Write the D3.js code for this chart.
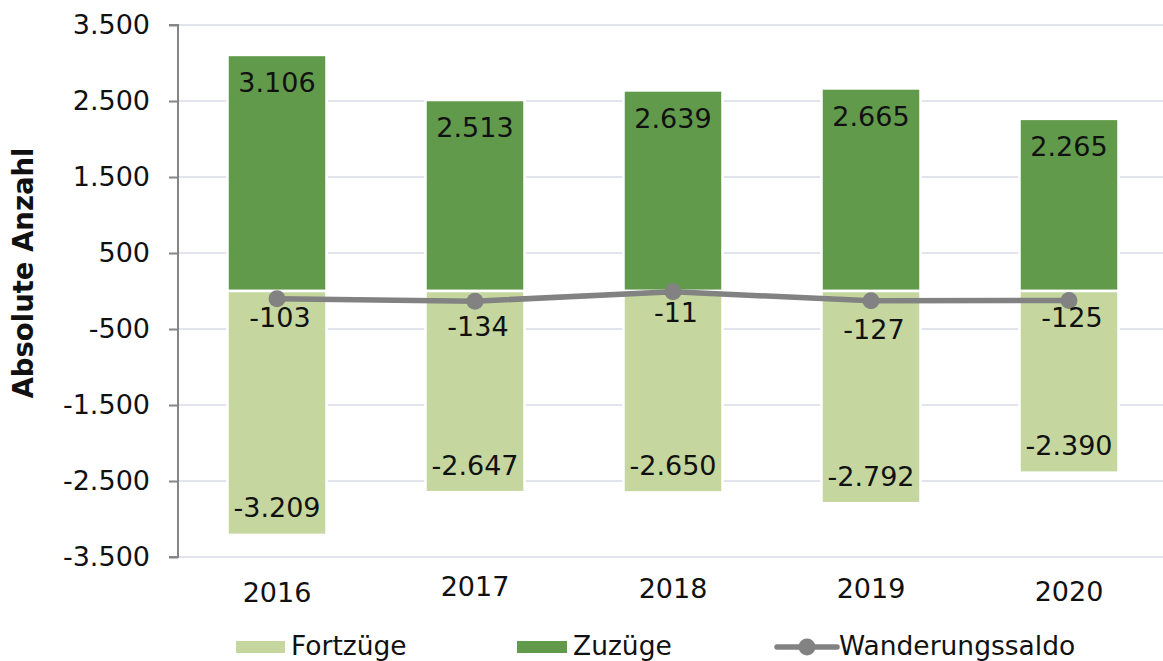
<!DOCTYPE html>
<html><head><meta charset="utf-8">
<script src="https://cdn.jsdelivr.net/npm/d3@7"></script>
<style>body{margin:0;background:#fff}svg{display:block;font-family:"DejaVu Sans",Verdana,sans-serif}</style>
</head><body><svg id="c" width="1163" height="661"></svg>
<script>
const years = ["2016","2017","2018","2019","2020"];
const zuzuege = [3106, 2513, 2639, 2665, 2265];
const fortzuege = [-3209, -2647, -2650, -2792, -2390];
const saldo = [-103, -134, -11, -127, -125];
const yTicks = [-3500, -2500, -1500, -500, 500, 1500, 2500, 3500];
const seriesNames = ["Fortzüge", "Zuzüge", "Wanderungssaldo"];

const colZu = "#629a4c", colFort = "#c5d79f", colLine = "#828282", colGrid = "#e1e4ec";
const svg = d3.select("#c");
const W = 1163;
const x = d3.scaleBand().domain(years).range([178, 1168]).paddingInner(0.5).paddingOuter(0.25);
const y = d3.scaleLinear().domain([-3500, 3500]).range([557, 25]);
const loc = d3.formatLocale({decimal: ",", thousands: ".", grouping: [3], currency: ["", "€"], minus: "-"});
const fmt = loc.format(",d");
const fs = 27;

// gridlines
svg.append("g").selectAll("line").data(yTicks).join("line")
  .attr("x1", 178).attr("x2", W).attr("y1", d => y(d)).attr("y2", d => y(d))
  .attr("stroke", colGrid).attr("stroke-width", 2);

// y axis
const ax = svg.append("g").attr("transform", "translate(178,0)")
  .call(d3.axisLeft(y).tickValues(yTicks).tickFormat(fmt).tickSize(9).tickPadding(19));
ax.select(".domain").attr("stroke", "#868686").attr("stroke-width", 2).attr("d", `M-9,${y(3500)}H0V${y(-3500)}H-9`);
ax.selectAll(".tick line").attr("stroke", "#868686").attr("stroke-width", 2);
ax.selectAll(".tick text").attr("font-size", fs).attr("fill", "#111").attr("font-family", "DejaVu Sans");

// y title
svg.append("text").attr("transform", `translate(33,273) rotate(-90)`).attr("text-anchor", "middle")
  .attr("font-size", 27.5).attr("font-weight", "bold").attr("fill", "#111").text("Absolute Anzahl");

// bars
const bw = x.bandwidth();
svg.append("g").selectAll("rect").data(years).join("rect")
  .attr("x", d => x(d)).attr("width", bw)
  .attr("y", (d, i) => y(zuzuege[i])).attr("height", (d, i) => y(0) - y(zuzuege[i]))
  .attr("fill", colZu).attr("stroke", "#fff").attr("stroke-width", 2.5);
svg.append("g").selectAll("rect").data(years).join("rect")
  .attr("x", d => x(d)).attr("width", bw)
  .attr("y", y(0)).attr("height", (d, i) => y(fortzuege[i]) - y(0))
  .attr("fill", colFort).attr("stroke", "#fff").attr("stroke-width", 2.5);

// bar labels
const cx = d => x(d) + bw / 2;
svg.append("g").selectAll("text").data(years).join("text")
  .attr("x", cx).attr("y", (d, i) => y(zuzuege[i]) + 28).attr("dy", "0.35em")
  .attr("text-anchor", "middle").attr("font-size", fs).attr("fill", "#111")
  .text((d, i) => fmt(zuzuege[i]));
svg.append("g").selectAll("text").data(years).join("text")
  .attr("x", cx).attr("y", (d, i) => y(fortzuege[i]) - 27).attr("dy", "0.35em")
  .attr("text-anchor", "middle").attr("font-size", fs).attr("fill", "#111")
  .text((d, i) => fmt(fortzuege[i]));

// line
const line = d3.line().x((d, i) => cx(years[i])).y(d => y(d));
svg.append("path").datum(saldo).attr("d", line).attr("fill", "none")
  .attr("stroke", colLine).attr("stroke-width", 5.5).attr("stroke-linejoin", "round");
svg.append("g").selectAll("circle").data(saldo).join("circle")
  .attr("cx", (d, i) => cx(years[i])).attr("cy", d => y(d)).attr("r", 8.5).attr("fill", colLine);
const saldoNudge = [19, 25, 21, 29, 17];
svg.append("g").selectAll("text").data(saldo).join("text")
  .attr("x", (d, i) => cx(years[i]) + 3).attr("y", (d, i) => y(d) + saldoNudge[i]).attr("dy", "0.35em")
  .attr("text-anchor", "middle").attr("font-size", fs).attr("fill", "#111").text(d => fmt(d));

// x labels
const yearNudge = [593, 587, 589, 589, 592];
svg.append("g").selectAll("text").data(years).join("text")
  .attr("x", cx).attr("y", (d, i) => yearNudge[i]).attr("dy", "0.35em")
  .attr("text-anchor", "middle").attr("font-size", fs).attr("fill", "#111").text(d => d);

// legend
const lg = svg.append("g");
const lfs = 26.5;
lg.append("rect").attr("x", 236).attr("y", 641).attr("width", 49).attr("height", 12).attr("fill", colFort);
lg.append("text").attr("x", 291).attr("y", 646).attr("dy", "0.35em").attr("font-size", lfs).attr("fill", "#111").text(seriesNames[0]);
lg.append("rect").attr("x", 517).attr("y", 641).attr("width", 50).attr("height", 12).attr("fill", colZu);
lg.append("text").attr("x", 573).attr("y", 646).attr("dy", "0.35em").attr("font-size", lfs).attr("fill", "#111").text(seriesNames[1]);
lg.append("line").attr("x1", 777).attr("x2", 837).attr("y1", 647).attr("y2", 647).attr("stroke", colLine).attr("stroke-width", 5.5).attr("stroke-linecap", "round");
lg.append("circle").attr("cx", 807).attr("cy", 647).attr("r", 8.5).attr("fill", colLine);
lg.append("text").attr("x", 839).attr("y", 646).attr("dy", "0.35em").attr("font-size", lfs).attr("fill", "#111").text(seriesNames[2]);
</script></body></html>
